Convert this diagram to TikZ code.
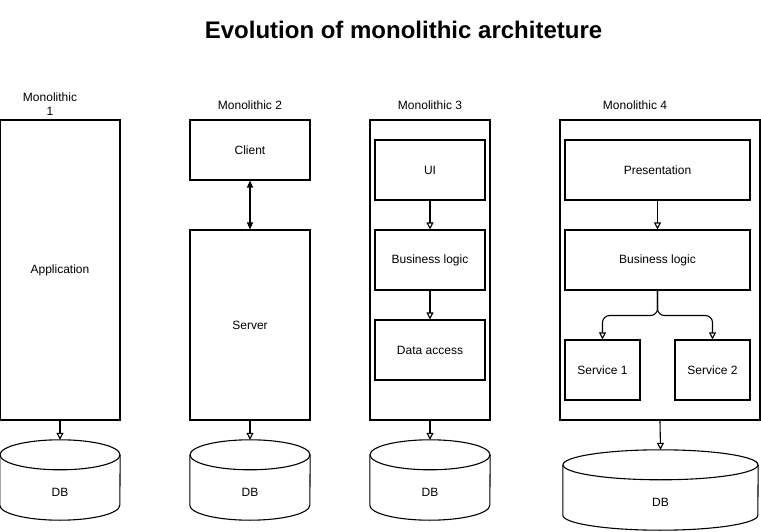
\documentclass[tikz,border=0pt]{standalone}
\usepackage{fontspec}
\setmainfont{Liberation Sans}
\usetikzlibrary{arrows.meta,calc}
\begin{document}
\begin{tikzpicture}[x=1pt,y=1pt,
  every node/.style={font=\fontsize{12}{14}\selectfont},
  box/.style={draw, line width=1.1pt, inner sep=0pt, fill=white},
  dbbody/.style={inner sep=0pt},
  lbl/.style={align=center, inner sep=0pt},
  conn/.style={line width=1.1pt, -{Triangle[open,length=7pt,width=7pt]}},
  dconn/.style={line width=1.1pt, {Triangle[length=7pt,width=6pt]}-{Triangle[length=7pt,width=6pt]}},
  cyl/.style={line width=1.1pt}
]
\useasboundingbox (0,0) rectangle (761,531);

% title
\node[font=\fontsize{24}{28}\selectfont\bfseries] (title) at (403.5,501) {Evolution of monolithic architeture};

% column labels
\node[lbl] (l1) at (50,426.5) {Monolithic\\1};
\node[lbl] (l2) at (250,426) {Monolithic 2};
\node[lbl] (l3) at (430,426) {Monolithic 3};
\node[lbl] (l4) at (635,426) {Monolithic 4};

% column 1
\node[box, minimum width=120pt, minimum height=300pt] (app) at (60,261) {Application};

% column 2
\node[box, minimum width=120pt, minimum height=60pt] (client) at (250,381) {Client};
\node[box, minimum width=120pt, minimum height=190pt] (server) at (250,206) {Server};

% column 3
\node[box, minimum width=120pt, minimum height=300pt] (outer3) at (430,261) {};
\node[box, minimum width=110pt, minimum height=60pt] (ui) at (430,361) {UI};
\node[box, minimum width=110pt, minimum height=60pt] (bl3) at (430,271) {Business logic};
\node[box, minimum width=110pt, minimum height=60pt] (da) at (430,181) {Data access};

% column 4
\node[box, minimum width=200pt, minimum height=300pt] (outer4) at (660,261) {};
\node[box, minimum width=185pt, minimum height=60pt] (pres) at (657.5,361) {Presentation};
\node[box, minimum width=185pt, minimum height=60pt] (bl4) at (657.5,271) {Business logic};
\node[box, minimum width=75pt, minimum height=60pt] (s1) at (602.5,161) {Service 1};
\node[box, minimum width=75pt, minimum height=60pt] (s2) at (712.5,161) {Service 2};

% databases (body nodes)
\node[dbbody, minimum width=120pt, minimum height=50pt] (db1) at (60,39) {DB};
\node[dbbody, minimum width=120pt, minimum height=50pt] (db2) at (250,39) {DB};
\node[dbbody, minimum width=120pt, minimum height=50pt] (db3) at (430,39) {DB};
\node[dbbody, minimum width=195pt, minimum height=50pt] (db4) at (660.5,29) {DB};

% cylinder outlines
\foreach \d/\r in {db1/60,db2/60,db3/60,db4/97.5}{
  \draw[cyl] ([yshift=12pt]\d.north west) -- ([yshift=12pt]\d.south west)
     arc[start angle=180,end angle=360,x radius=\r pt,y radius=15pt]
     -- ([yshift=12pt]\d.north east);
  \draw[cyl] ([yshift=12pt]\d.north) ellipse[x radius=\r pt,y radius=15pt];
  \coordinate (\d top) at ([yshift=27pt]\d.north);
}

% connectors
\draw[conn] (app.south) -- (db1top);
\draw[dconn] (client.south) -- (server.north);
\draw[conn] (server.south) -- (db2top);
\draw[conn] (ui.south) -- (bl3.north);
\draw[conn] (bl3.south) -- (da.north);
\draw[conn] (outer3.south) -- (db3top);
\draw[conn] (pres.south) -- (bl4.north);
\draw[conn, rounded corners=7pt] (bl4.south) -- ++(0,-25) -| (s1.north);
\draw[conn, rounded corners=7pt] (bl4.south) -- ++(0,-25) -| (s2.north);
\draw[conn] (outer4.south) -- (db4top);
\end{tikzpicture}
\end{document}
